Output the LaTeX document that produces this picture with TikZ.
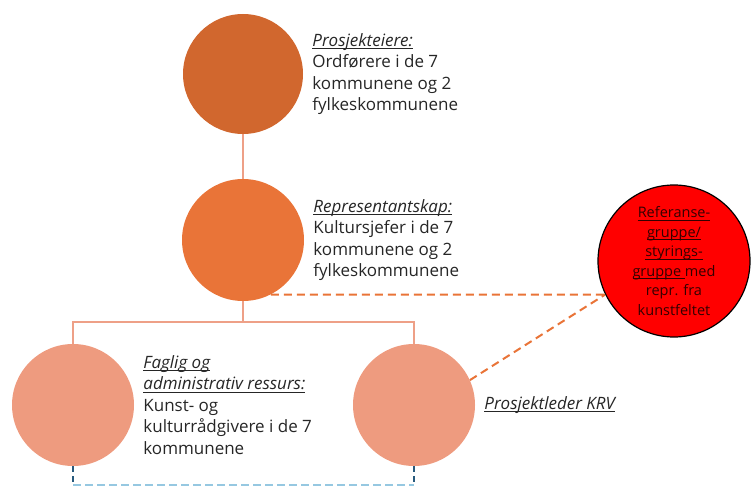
\documentclass[tikz,border=0pt]{standalone}
\usepackage{fontspec}
\setmainfont{Open Sans}
\usepackage{xcolor}
\usepackage{tikz}
\usetikzlibrary{positioning}

\definecolor{ownerorange}{RGB}{209,103,46}
\definecolor{reporange}{RGB}{233,116,56}
\definecolor{staffpink}{RGB}{238,155,127}
\definecolor{treepink}{RGB}{238,160,135}
\definecolor{textgray}{RGB}{38,38,38}
\definecolor{footblue}{RGB}{40,90,125}
\definecolor{footlight}{RGB}{150,200,225}

\newcommand{\undl}[1]{\setbox0\hbox{#1}\rlap{\rule[-2.5pt]{\wd0}{0.7pt}}\box0}

\begin{document}
\begin{tikzpicture}[x=1pt,y=-1pt,
    ball/.style={circle,minimum size=120pt,inner sep=0pt},
    info/.style={align=left,inner sep=0pt,text=textgray,
      font=\fontsize{17}{21.5}\selectfont},
    tree/.style={draw=treepink,line width=2pt},
    refdash/.style={draw=reporange,line width=2pt,dash pattern=on 8pt off 5pt},
    footdash/.style={draw=footblue,line width=1.6pt,dash pattern=on 6pt off 4pt},
    lightdash/.style={draw=footlight,line width=1.6pt,dash pattern=on 8pt off 4pt}]
    \useasboundingbox (0,0) rectangle (752,486);
    % circles
    \node[ball,fill=ownerorange] (owner) at (243,74) {};
    \node[ball,fill=reporange,minimum size=122pt] (repr) at (243,240) {};
    \node[ball,fill=staffpink,minimum size=122pt] (fag) at (73,405) {};
    \node[ball,fill=staffpink,minimum size=122pt] (krv) at (414,405) {};
    \node[circle,fill=red,draw=black,line width=1.2pt,minimum size=152pt,
      inner sep=0pt,align=center,text=black!80!red,
      font=\fontsize{14.5}{19.5}\selectfont] (ref) at (674,261)
      {\undl{Referanse-}\\\undl{gruppe/}\\\undl{styrings-}\\\undl{gruppe }med\\repr. fra\\kunstfeltet};
    % texts
    \node[info,right=9pt of owner] (ownertext)
      {\undl{\itshape Prosjekteiere:}\\Ordførere i de 7\\kommunene og 2\\fylkeskommunene};
    \node[info,right=9pt of repr] (reprtext)
      {\undl{\itshape Representantskap:}\\Kultursjefer i de 7\\kommunene og 2\\fylkeskommunene};
    \node[info,right=9pt of fag] (fagtext)
      {\undl{\itshape Faglig og}\\\undl{\itshape administrativ ressurs:}\\Kunst- og\\kulturrådgivere i de 7\\kommunene};
    \node[info,right=9pt of krv] (krvtext) {\undl{\itshape Prosjektleder KRV}};
    % connectors
    \draw[tree] (owner) -- (repr);
    \draw[tree] (repr.south) -- ++(0,21) -| (fag.north);
    \draw[tree] (repr.south) -- ++(0,21) -| (krv.north);
    \draw[refdash] (repr.-63) -- (ref.206);
    \draw[refdash] (krv.24) -- (ref.206);
    \coordinate (fagfoot) at (73,485);
    \coordinate (krvfoot) at (414,485);
    \draw[footdash] (fag.south) -- (fagfoot);
    \draw[footdash] (krv.south) -- (krvfoot);
    \draw[lightdash] (fagfoot) -- (krvfoot);
\end{tikzpicture}
\end{document}
